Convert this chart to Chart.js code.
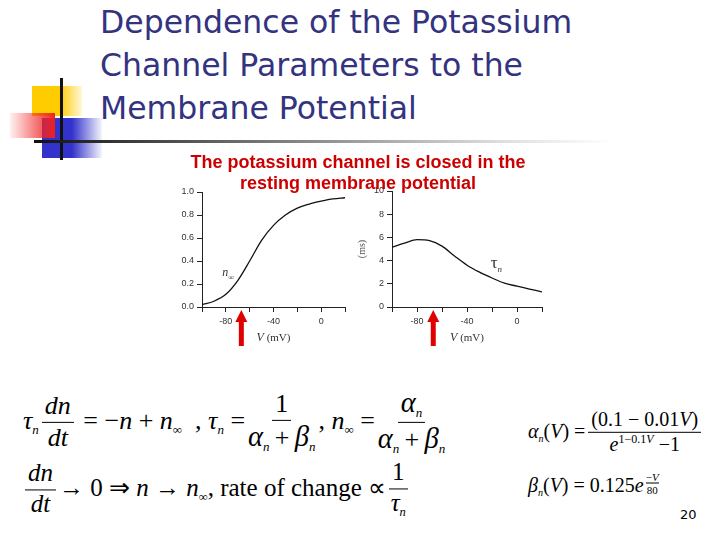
<!DOCTYPE html>
<html>
<head>
<meta charset="utf-8">
<script src="https://cdn.jsdelivr.net/npm/chart.js@4.4.0/dist/chart.umd.min.js"></script>
<style>
  html, body { margin: 0; padding: 0; background: #fff; }
  #slide { position: relative; width: 720px; height: 540px; overflow: hidden; background: #fff; }

  /* corner decoration */
  .deco { position: absolute; }
  #yellow { left: 32px; top: 86px; width: 50px; height: 30px; background: linear-gradient(to right, #ffcc00 55%, rgba(255,204,0,0.15)); }
  #blue { left: 42px; top: 118px; width: 60px; height: 40px; background: linear-gradient(to right, #3333cc 50%, rgba(51,51,204,0.05)); }
  #red { left: 10px; top: 113px; width: 45px; height: 25px; background: linear-gradient(to right, rgba(255,120,120,0.1), #f02020); }
  #vline { left: 60px; top: 78px; width: 3px; height: 82px; background: #111; }
  #hline { left: 34px; top: 140px; width: 580px; height: 3px; background: linear-gradient(to right, #111 0%, #777 40%, #ddd 80%, rgba(255,255,255,0)); }

  #title { position: absolute; left: 100px; top: 1px; font-family: "DejaVu Sans", sans-serif; font-size: 31.5px; line-height: 43px; color: #333380; }
  #subtitle { position: absolute; left: 150px; width: 416px; top: 152px; text-align: center; font-family: "Liberation Sans", Arial, sans-serif; font-weight: bold; font-size: 18px; line-height: 21px; color: #cc0000; z-index: 5; }

  canvas { position: absolute; }
  #nChart { left: 150px; top: 180px; }
  #tauChart { left: 340px; top: 180px; }

  /* equations */
  .eq { position: absolute; display: flex; align-items: center; white-space: nowrap; font-family: "Liberation Serif", "Times New Roman", serif; color: #000; transform: translateY(-50%); }
  .frac { display: inline-flex; flex-direction: column; align-items: center; margin: 0 3px; }
  .frac > span { display: block; line-height: 1.15; }
  .frac > span:first-child { border-bottom: 1.3px solid #000; padding: 0 3px 1px; }
  .eq sub { font-size: 0.5em; vertical-align: -0.4em; }
  .eq sup { font-size: 0.6em; vertical-align: 0.7em; }
  .gr { font-size: 1.1em; }
  .op { margin: 0 0.2em; }
  #eq1 { left: 23px; top: 422px; font-size: 26px; }
  #eq2 { left: 22px; top: 489px; font-size: 25px; }
  #eq3 { left: 528px; top: 432px; font-size: 20px; }
  #eq4 { left: 528px; top: 484px; font-size: 20px; }
  .tiny { display: inline-flex; flex-direction: column; align-items: center; font-size: 11px; line-height: 1.1; vertical-align: 1.0em; margin-left: 2px; }
  .tiny > span:first-child { border-bottom: 0.8px solid #000; }
  #page { position: absolute; left: 680px; top: 507px; font-family: "DejaVu Sans", sans-serif; font-size: 13px; color: #000; }
</style>
</head>
<body>
<div id="slide">
  <div class="deco" id="yellow"></div>
  <div class="deco" id="blue"></div>
  <div class="deco" id="red"></div>
  <div class="deco" id="vline"></div>
  <div class="deco" id="hline"></div>

  <div id="title">Dependence of the Potassium<br>Channel Parameters to the<br>Membrane Potential</div>
  <div id="subtitle">The potassium channel is closed in the<br>resting membrane potential</div>

  <canvas id="nChart" width="210" height="170"></canvas>
  <canvas id="tauChart" width="215" height="170"></canvas>

  <div class="eq" id="eq1">
    <span><i>τ</i><sub><i>n</i></sub></span>
    <span class="frac"><span><i>dn</i></span><span><i>dt</i></span></span>
    <span>&nbsp;= −<i>n</i> + <i>n</i><sub>∞</sub>&nbsp;&nbsp;, <i>τ</i><sub><i>n</i></sub> =</span>
    <span class="frac"><span>1</span><span><i class="gr">α</i><sub><i>n</i></sub><span class="op">+</span><i class="gr">β</i><sub><i>n</i></sub></span></span>
    <span>, <i>n</i><sub>∞</sub> =</span>
    <span class="frac"><span><i class="gr">α</i><sub><i>n</i></sub></span><span><i class="gr">α</i><sub><i>n</i></sub><span class="op">+</span><i class="gr">β</i><sub><i>n</i></sub></span></span>
  </div>
  <div class="eq" id="eq2">
    <span class="frac"><span><i>dn</i></span><span><i>dt</i></span></span>
    <span>→ 0 ⇒ <i>n</i> → <i>n</i><sub>∞</sub>, rate of change ∝</span>
    <span class="frac"><span>1</span><span><i>τ</i><sub><i>n</i></sub></span></span>
  </div>
  <div class="eq" id="eq3">
    <span><i>α</i><sub><i>n</i></sub>(<i>V</i>) =</span>
    <span class="frac"><span>(0.1 − 0.01<i>V</i>)</span><span><i>e</i><sup>1−0.1<i>V</i></sup> −1</span></span>
  </div>
  <div class="eq" id="eq4">
    <span><i>β</i><sub><i>n</i></sub>(<i>V</i>) = 0.125<i>e</i><span class="tiny"><span>−<i>V</i></span><span>80</span></span></span>
  </div>
  <div id="page">20</div>
</div>

<script>
'use strict'

// Membrane potential (mV) where the curves were read
var voltage = [-100, -90, -80, -70, -60, -50, -40, -30, -20, -10, 0, 10, 20];

// Steady state activation n-infinity (left panel)
var nInf = [0.02, 0.05, 0.11, 0.23, 0.40, 0.58, 0.71, 0.80, 0.86, 0.895, 0.92, 0.94, 0.95];

// Time constant tau_n in ms (right panel)
var tauN = [5.15, 5.5, 5.8, 5.72, 5.25, 4.4, 3.6, 3.0, 2.5, 2.05, 1.8, 1.55, 1.3];

// Axis ranges and tick values
var voltageRange = [-100, 20];
var voltageLabels = [-80, -40, 0];
var nTicks = [0, 0.2, 0.4, 0.6, 0.8, 1.0];
var tauTicks = [0, 2, 4, 6, 8, 10];

// Resting membrane potential, marked by the red arrows
var restingPotential = -67;

var tickFont = { family: 'Liberation Sans', size: 9 };

// Draws the red arrow, the x axis title and the curve name
var panelMarks = {
  id: 'panelMarks',
  afterDatasetsDraw: function(chart, args, opts) {
    var ctx = chart.ctx;
    var area = chart.chartArea;
    var x = chart.scales.x.getPixelForValue(restingPotential);
    var tip = area.bottom + 3;

    // Arrow
    ctx.save();
    ctx.fillStyle = '#e00000';
    ctx.beginPath();
    ctx.moveTo(x, tip);
    ctx.lineTo(x + 6, tip + 12);
    ctx.lineTo(x + 2.5, tip + 12);
    ctx.lineTo(x + 2.5, tip + 36);
    ctx.lineTo(x - 2.5, tip + 36);
    ctx.lineTo(x - 2.5, tip + 12);
    ctx.lineTo(x - 6, tip + 12);
    ctx.closePath();
    ctx.fill();

    // X axis title, italic V
    var cx = (area.left + area.right) / 2;
    ctx.fillStyle = '#333';
    ctx.textBaseline = 'middle';
    ctx.font = 'italic 12px "Liberation Serif"';
    var wv = ctx.measureText('V').width;
    ctx.font = '11px "Liberation Serif"';
    var wr = ctx.measureText(' (mV)').width;
    var sx = cx - (wv + wr) / 2;
    ctx.font = 'italic 12px "Liberation Serif"';
    ctx.fillText('V', sx, area.bottom + 31);
    ctx.font = '11px "Liberation Serif"';
    ctx.fillText(' (mV)', sx + wv, area.bottom + 31);

    // Curve label
    var lx = chart.scales.x.getPixelForValue(opts.at[0]);
    var ly = chart.scales.y.getPixelForValue(opts.at[1]);
    ctx.textBaseline = 'alphabetic';
    ctx.font = opts.mainFont;
    ctx.fillText(opts.main, lx, ly);
    var w = ctx.measureText(opts.main).width;
    ctx.font = opts.subFont;
    ctx.fillText(opts.sub, lx + w, ly + 4);
    ctx.restore();
  }
};

function makePanel(id, values, yTicks, yFormat, yTitle, pad, mark) {
  return new Chart(document.getElementById(id), {
    type: 'line',
    data: {
      datasets: [{
        data: voltage.map(function(v, i) { return { x: v, y: values[i] }; }),
        borderColor: '#111',
        borderWidth: 1.3,
        pointRadius: 0,
        fill: false,
        cubicInterpolationMode: 'monotone'
      }]
    },
    options: {
      responsive: false,
      animation: false,
      layout: { padding: pad },
      plugins: {
        legend: { display: false },
        tooltip: { enabled: false },
        panelMarks: mark
      },
      scales: {
        x: {
          type: 'linear',
          min: voltageRange[0],
          max: voltageRange[1],
          border: { display: true, color: '#222', width: 1 },
          grid: { display: true, drawOnChartArea: false, drawTicks: true, tickLength: 5, color: '#222' },
          ticks: {
            stepSize: 20,
            font: tickFont,
            color: '#333',
            padding: 4,
            maxRotation: 0,
            callback: function(v) { return voltageLabels.indexOf(v) >= 0 ? String(v) : ''; }
          },
          afterFit: function(s) { s.height = 43; }
        },
        y: {
          min: yTicks[0],
          max: yTicks[yTicks.length - 1],
          border: { display: true, color: '#222', width: 1 },
          grid: { display: true, drawOnChartArea: false, drawTicks: true, tickLength: 5, color: '#222' },
          afterBuildTicks: function(s) { s.ticks = yTicks.map(function(v) { return { value: v }; }); },
          ticks: {
            font: tickFont,
            color: '#333',
            padding: 3,
            callback: yFormat
          },
          title: {
            display: yTitle !== '',
            text: yTitle,
            font: { family: 'Liberation Serif', size: 10 },
            color: '#555',
            padding: { top: 16, bottom: 0 }
          },
          afterFit: function(s) { s.width = 52; }
        }
      }
    },
    plugins: [panelMarks]
  });
}

// Left panel: n-infinity
makePanel('nChart', nInf, nTicks,
  function(v) { return v.toFixed(1); }, '',
  { top: 12, right: 15, left: 0, bottom: 0 },
  { at: [-83, 0.27], main: 'n', mainFont: 'italic 12px "Liberation Serif"', sub: '∞', subFont: '8px "Liberation Serif"' });

// Right panel: tau_n
makePanel('tauChart', tauN, tauTicks,
  function(v) { return String(v); }, '(ms)',
  { top: 11, right: 13, left: 0, bottom: 0 },
  { at: [-21, 3.4], main: 'τ', mainFont: '17px "Liberation Serif"', sub: 'n', subFont: 'italic 9px "Liberation Serif"' });
</script>
</body>
</html>
